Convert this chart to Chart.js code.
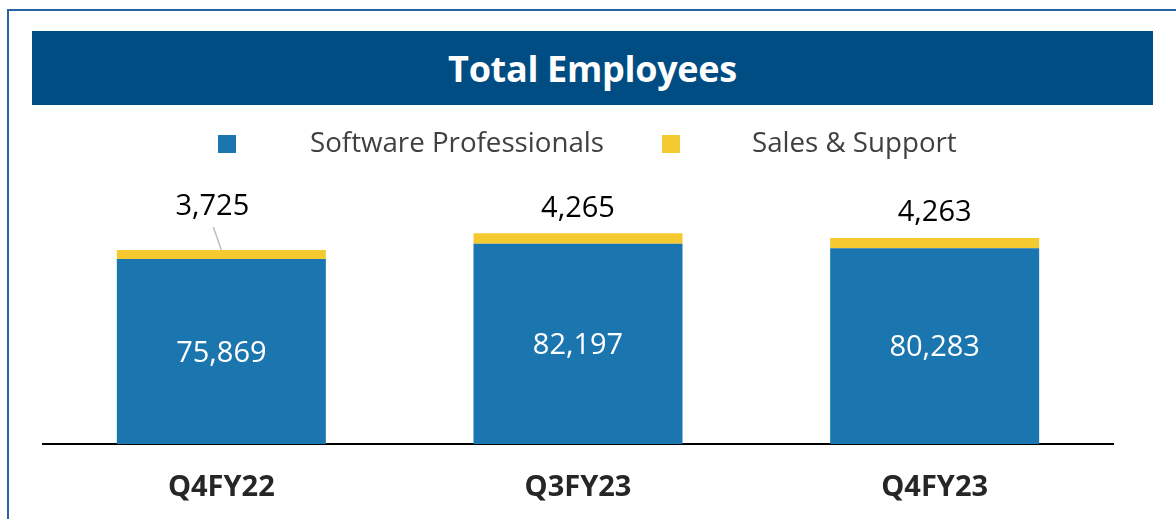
<!DOCTYPE html>
<html>
<head>
<meta charset="utf-8">
<script src="https://cdn.jsdelivr.net/npm/chart.js@4"></script>
<style>
  body { margin: 0; background: #fff; width: 1176px; height: 519px; overflow: hidden; position: relative; font-family: 'Open Sans', sans-serif; }
  #frame { position: absolute; left: 7px; top: 9px; width: 1200px; height: 600px; border-top: 2px solid #2a62a6; border-left: 2px solid #2a62a6; }
  #banner { position: absolute; left: 32px; top: 31px; width: 1121px; height: 74px; background: #004d84; color: #fff;
            font-weight: bold; font-size: 36px; line-height: 76px; text-align: center; letter-spacing: -0.3px; }
  #wrap { position: absolute; left: 0; top: 0; width: 1176px; height: 532px; }
</style>
</head>
<body>
<div id="frame"></div>
<div id="banner">Total Employees</div>
<div id="wrap"><canvas id="c"></canvas></div>
<script>
const quarters = ['Q4FY22', 'Q3FY23', 'Q4FY23'];
const softwareProfessionals = [75869, 82197, 80283];
const salesSupport = [3725, 4265, 4263];
const seriesNames = ['Software Professionals', 'Sales & Support'];

const BLUE = '#1b75ae';
const YELLOW = '#f5c930';
const fmt = v => v.toLocaleString('en-US');

// custom legend, drawn with the wide gap used in the source slide
const legendPlugin = {
  id: 'slideLegend',
  afterDraw(chart) {
    const ctx = chart.ctx;
    const items = [
      { box: 218, text: 310, color: BLUE, label: seriesNames[0] },
      { box: 662, text: 752, color: YELLOW, label: seriesNames[1] }
    ];
    ctx.save();
    ctx.font = '27.7px "Open Sans"';
    ctx.textBaseline = 'middle';
    items.forEach(it => {
      ctx.fillStyle = it.color;
      ctx.fillRect(it.box, 135, 18, 18);
      ctx.fillStyle = '#404040';
      ctx.fillText(it.label, it.text, 144);
    });
    ctx.restore();
  }
};

// value labels: inside for the blue segment, above for the yellow one
const labelNudge = [[-9, -18], [0, 0], [0, 0]];
const labelPlugin = {
  id: 'valueLabels',
  afterDatasetsDraw(chart) {
    const ctx = chart.ctx;
    ctx.save();
    ctx.font = '29px "Open Sans"';
    ctx.textAlign = 'center';
    ctx.textBaseline = 'middle';
    chart.getDatasetMeta(0).data.forEach((bar, i) => {
      ctx.fillStyle = '#fff';
      ctx.fillText(fmt(softwareProfessionals[i]), bar.x, (bar.y + bar.base) / 2 + 2);
    });
    chart.getDatasetMeta(1).data.forEach((bar, i) => {
      const [dx, dy] = labelNudge[i];
      const lx = bar.x + dx, ly = bar.y - 25 + dy;
      if (dx || dy) {
        ctx.strokeStyle = '#bfbfbf';
        ctx.lineWidth = 1.5;
        ctx.beginPath();
        ctx.moveTo(lx + 1, ly + 20);
        ctx.lineTo(bar.x, bar.y);
        ctx.stroke();
      }
      ctx.fillStyle = '#000';
      ctx.fillText(fmt(salesSupport[i]), lx, ly);
    });
    ctx.restore();
  }
};

new Chart(document.getElementById('c'), {
  type: 'bar',
  data: {
    labels: quarters,
    datasets: [
      { label: seriesNames[0], data: softwareProfessionals, backgroundColor: BLUE },
      { label: seriesNames[1], data: salesSupport, backgroundColor: YELLOW }
    ]
  },
  options: {
    responsive: true,
    maintainAspectRatio: false,
    animation: false,
    layout: { padding: { left: 43, right: 63, top: 171, bottom: 0 } },
    datasets: { bar: { barPercentage: 0.586, categoryPercentage: 1 } },
    plugins: {
      legend: { display: false },
      tooltip: { enabled: false }
    },
    scales: {
      x: {
        stacked: true,
        grid: { display: false, drawTicks: false },
        border: { display: true, color: '#000', width: 2 },
        ticks: { color: '#262626', padding: 26.6, font: { family: 'Open Sans', size: 29, weight: 'bold' } }
      },
      y: {
        stacked: true,
        display: false,
        min: 0,
        max: 112000
      }
    }
  },
  plugins: [legendPlugin, labelPlugin]
});
</script>
</body>
</html>
